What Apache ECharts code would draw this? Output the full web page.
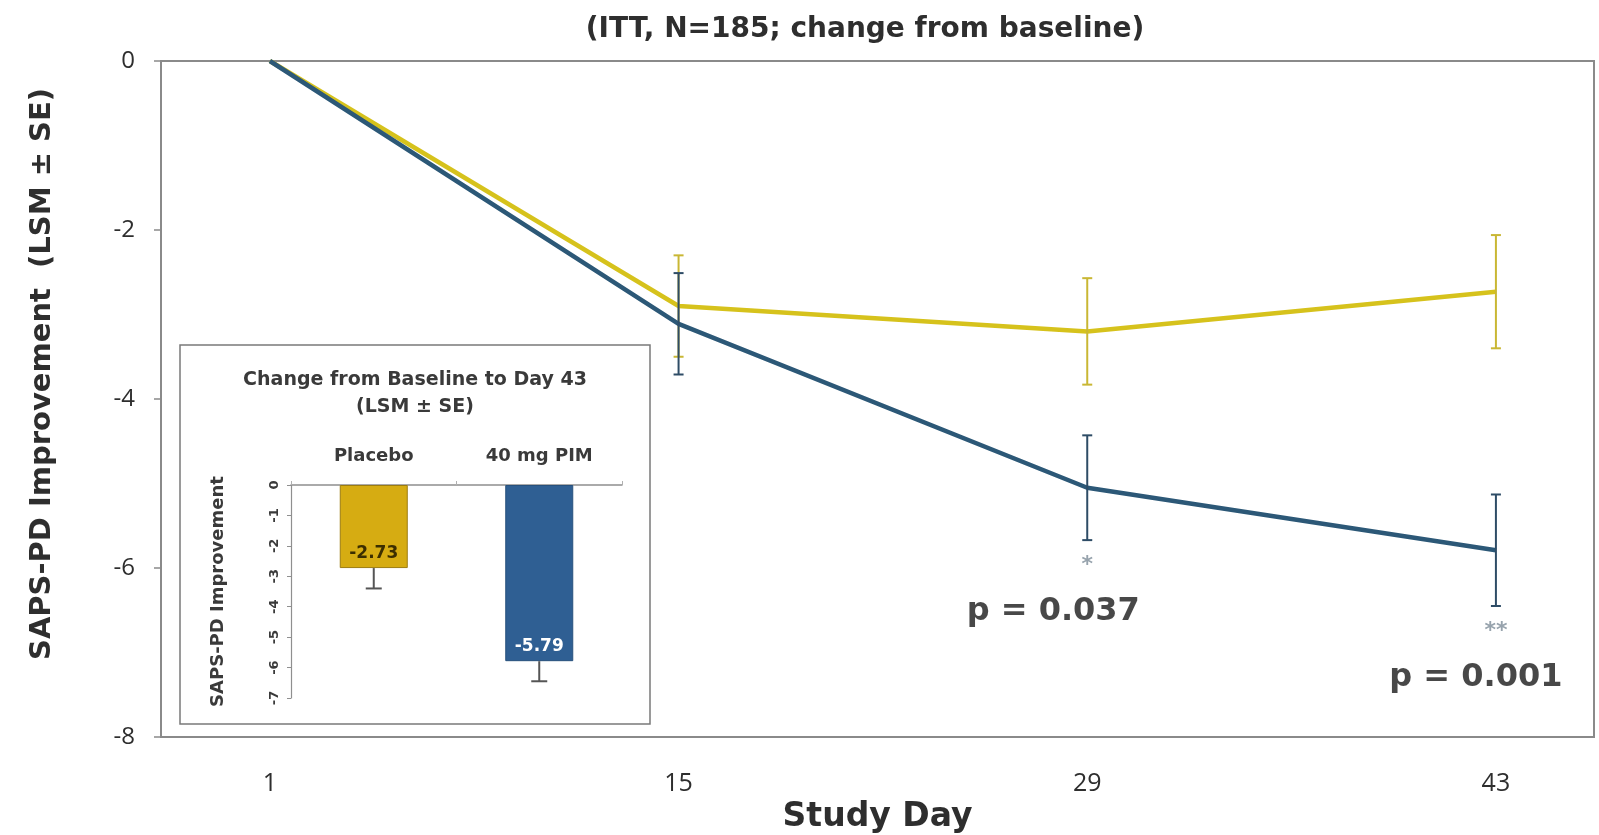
<!DOCTYPE html>
<html>
<head>
<meta charset="utf-8">
<title>SAPS-PD Improvement by Study Day</title>
<script src="https://cdn.jsdelivr.net/npm/echarts@6/dist/echarts.min.js"></script>
<style>
  html, body { margin: 0; padding: 0; background: #ffffff; }
  #chart { width: 1599px; height: 835px; }
</style>
</head>
<body>
<div id="chart"></div>
<script>
// Study visits (days) and least-squares mean change from baseline with standard errors
const studyDays = [1, 15, 29, 43];
const placeboLSM = [0, -2.90, -3.20, -2.73];
const placeboSE  = [0, 0.60, 0.63, 0.67];
const pimLSM     = [0, -3.11, -5.05, -5.79];
const pimSE      = [0, 0.60, 0.62, 0.66];

// Significance annotations at the later visits
const sigDays   = [29, 43];
const sigStars  = ['*', '**'];
const sigPvals  = ['p = 0.037', 'p = 0.001'];

// Inset: change from baseline to Day 43
const insetGroups = ['Placebo', '40 mg PIM'];
const insetLSM    = [-2.73, -5.79];
const insetSE     = [0.67, 0.66];

const FONT = '"Open Sans", "Noto Sans", sans-serif';
const WIDE = '"DejaVu Sans", "Open Sans", sans-serif';
const TEXT = '#2e2e2e';
const YELLOW = '#D6C21C';
const YELLOW_ERR = '#C9B734';
const BLUE = '#2C5877';
const BLUE_ERR = '#2E4C66';

const chart = echarts.init(document.getElementById('chart'), null, { renderer: 'canvas' });

const pairs = (xs, ys) => xs.map((x, i) => [x, ys[i]]);

// Vertical error bar with small caps, drawn through the axis scales
function errorBarRenderer(color, capHalf, lowerOnly) {
  return function (params, api) {
    const x = api.value(0), lo = api.value(1), hi = api.value(2);
    const pLo = api.coord([x, lo]);
    const pHi = api.coord([x, hi]);
    const children = [
      { type: 'line', shape: { x1: pLo[0], y1: pLo[1], x2: pHi[0], y2: pHi[1] },
        style: { stroke: color, lineWidth: 2 } },
      { type: 'line', shape: { x1: pLo[0] - capHalf, y1: pLo[1], x2: pLo[0] + capHalf, y2: pLo[1] },
        style: { stroke: color, lineWidth: 2 } }
    ];
    if (!lowerOnly) {
      children.push({ type: 'line', shape: { x1: pHi[0] - capHalf, y1: pHi[1], x2: pHi[0] + capHalf, y2: pHi[1] },
        style: { stroke: color, lineWidth: 2 } });
    }
    return { type: 'group', children };
  };
}

const placeboErr = studyDays.map((d, i) => [d, placeboLSM[i] - placeboSE[i], placeboLSM[i] + placeboSE[i]])
  .filter((r, i) => placeboSE[i] > 0);
const pimErr = studyDays.map((d, i) => [d, pimLSM[i] - pimSE[i], pimLSM[i] + pimSE[i]])
  .filter((r, i) => pimSE[i] > 0);

// Star and p-value positions sit just below the active-arm lower whisker
const starData = sigDays.map((d, k) => {
  const i = studyDays.indexOf(d);
  return { value: [d, pimLSM[i] - pimSE[i] - 0.3], label: { formatter: sigStars[k] } };
});
const pOffsets = [[-34, 0], [-20, 0]];
const pvalData = sigDays.map((d, k) => {
  const i = studyDays.indexOf(d);
  return { value: [d, pimLSM[i] - pimSE[i] - 0.85], label: { formatter: sigPvals[k], offset: pOffsets[k] } };
});

const insetErr = insetGroups.map((g, i) => [i, insetLSM[i] - insetSE[i], insetLSM[i]]);

const option = {
  backgroundColor: '#ffffff',
  animation: false,
  title: {
    text: '(ITT, N=185; change from baseline)',
    left: 860, top: 11, textAlign: 'center',
    textStyle: { fontFamily: WIDE, fontSize: 28, fontWeight: 'bold', color: TEXT }
  },
  graphic: [
    {
      type: 'rect', z: 1,
      shape: { x: 180, y: 345, width: 470, height: 379 },
      style: { fill: '#ffffff', stroke: '#7a7a7a', lineWidth: 1.5 }
    },
    {
      type: 'text', z: 5, x: 415, y: 367,
      style: {
        text: 'Change from Baseline to Day 43\n(LSM ± SE)',
        align: 'center', verticalAlign: 'top',
        fontFamily: WIDE, fontSize: 19, fontWeight: 'bold',
        fill: '#3a3a3a', lineHeight: 27
      }
    }
  ],
  grid: [
    { left: 161, top: 61, width: 1433, height: 676, show: true, outerBoundsMode: 'none',
      borderColor: '#8a8a8a', borderWidth: 2, backgroundColor: 'transparent' },
    { left: 291, top: 485, width: 331, height: 213, outerBoundsMode: 'none' }
  ],
  xAxis: [
    {
      type: 'value', gridIndex: 0, min: -2.73, max: 46.36,
      name: 'Study Day', nameLocation: 'middle', nameGap: 57,
      nameTextStyle: { fontFamily: WIDE, fontSize: 33, fontWeight: 'bold', color: TEXT },
      axisLine: { show: true, onZero: false, lineStyle: { color: '#8a8a8a', width: 2 } },
      axisTick: { show: false },
      splitLine: { show: false },
      axisLabel: {
        customValues: studyDays, margin: 34,
        fontFamily: FONT, fontSize: 25, color: TEXT
      }
    },
    {
      type: 'category', gridIndex: 1, data: insetGroups, position: 'top', z: 6,
      axisLine: { show: true, onZero: false, lineStyle: { color: '#8f8f8f', width: 1.5 } },
      axisTick: { show: true, length: 4, lineStyle: { color: '#b0b0b0' } },
      axisLabel: { margin: 20, fontFamily: WIDE, fontSize: 18, fontWeight: 'bold', color: '#3a3a3a' }
    }
  ],
  yAxis: [
    {
      type: 'value', gridIndex: 0, min: -8, max: 0, interval: 2,
      name: 'SAPS-PD Improvement  (LSM ± SE)', nameLocation: 'middle', nameGap: 104,
      nameTextStyle: { fontFamily: WIDE, fontSize: 29, fontWeight: 'bold', color: TEXT, padding: [0, 0, 0, 50] },
      axisLine: { show: true, onZero: false, lineStyle: { color: '#8a8a8a', width: 2 } },
      axisTick: { show: true, length: 7, lineStyle: { color: '#8a8a8a', width: 1.5 } },
      splitLine: { show: false },
      axisLabel: { margin: 26, fontFamily: FONT, fontSize: 24, color: TEXT }
    },
    {
      type: 'value', gridIndex: 1, min: -7, max: 0, interval: 1, z: 6,
      name: 'SAPS-PD Improvement', nameLocation: 'middle', nameGap: 64,
      nameTextStyle: { fontFamily: WIDE, fontSize: 18, fontWeight: 'bold', color: '#3a3a3a' },
      axisLine: { show: true, onZero: false, lineStyle: { color: '#8f8f8f', width: 1.2 } },
      axisTick: { show: true, length: 4, lineStyle: { color: '#8f8f8f' } },
      splitLine: { show: false },
      axisLabel: { rotate: 90, margin: 10, fontFamily: WIDE, fontSize: 13, fontWeight: 'bold', color: '#3a3a3a' }
    }
  ],
  series: [
    {
      name: 'Placebo', type: 'line', xAxisIndex: 0, yAxisIndex: 0, z: 3,
      data: pairs(studyDays, placeboLSM), showSymbol: false,
      lineStyle: { color: YELLOW, width: 4.5 }, itemStyle: { color: YELLOW }
    },
    {
      name: 'Placebo SE', type: 'custom', xAxisIndex: 0, yAxisIndex: 0, z: 4,
      data: placeboErr, renderItem: errorBarRenderer(YELLOW_ERR, 5, false)
    },
    {
      name: '40 mg PIM', type: 'line', xAxisIndex: 0, yAxisIndex: 0, z: 5,
      data: pairs(studyDays, pimLSM), showSymbol: false,
      lineStyle: { color: BLUE, width: 4.5 }, itemStyle: { color: BLUE }
    },
    {
      name: '40 mg PIM SE', type: 'custom', xAxisIndex: 0, yAxisIndex: 0, z: 6,
      data: pimErr, renderItem: errorBarRenderer(BLUE_ERR, 5, false)
    },
    {
      name: 'stars', type: 'scatter', xAxisIndex: 0, yAxisIndex: 0, z: 6,
      symbolSize: 0, data: starData,
      label: { show: true, position: 'inside', fontFamily: WIDE, fontSize: 22, fontWeight: 'bold', color: '#7d8c99' }
    },
    {
      name: 'p-values', type: 'scatter', xAxisIndex: 0, yAxisIndex: 0, z: 6,
      symbolSize: 0, data: pvalData,
      label: { show: true, position: 'inside', fontFamily: WIDE, fontSize: 32, fontWeight: 'bold', color: '#1a1a1a' }
    },
    {
      name: 'Day 43', type: 'bar', xAxisIndex: 1, yAxisIndex: 1, z: 7,
      barWidth: 68,
      data: insetLSM.map((v, i) => ({
        value: v,
        itemStyle: i === 0
          ? { color: '#D6AC12', borderColor: '#9c7c10', borderWidth: 1 }
          : { color: '#2F5F93', borderColor: '#27507c', borderWidth: 1 },
        label: i === 0 ? { color: '#3b2e00' } : { color: '#ffffff' }
      })),
      label: {
        show: true, position: 'insideBottom', distance: 6,
        fontFamily: WIDE, fontSize: 17, fontWeight: 'bold',
        formatter: p => p.value.toFixed(2)
      }
    },
    {
      name: 'Day 43 SE', type: 'custom', xAxisIndex: 1, yAxisIndex: 1, z: 8,
      data: insetErr, renderItem: errorBarRenderer('#555555', 8, true)
    }
  ]
};

chart.setOption(option);
</script>
</body>
</html>
